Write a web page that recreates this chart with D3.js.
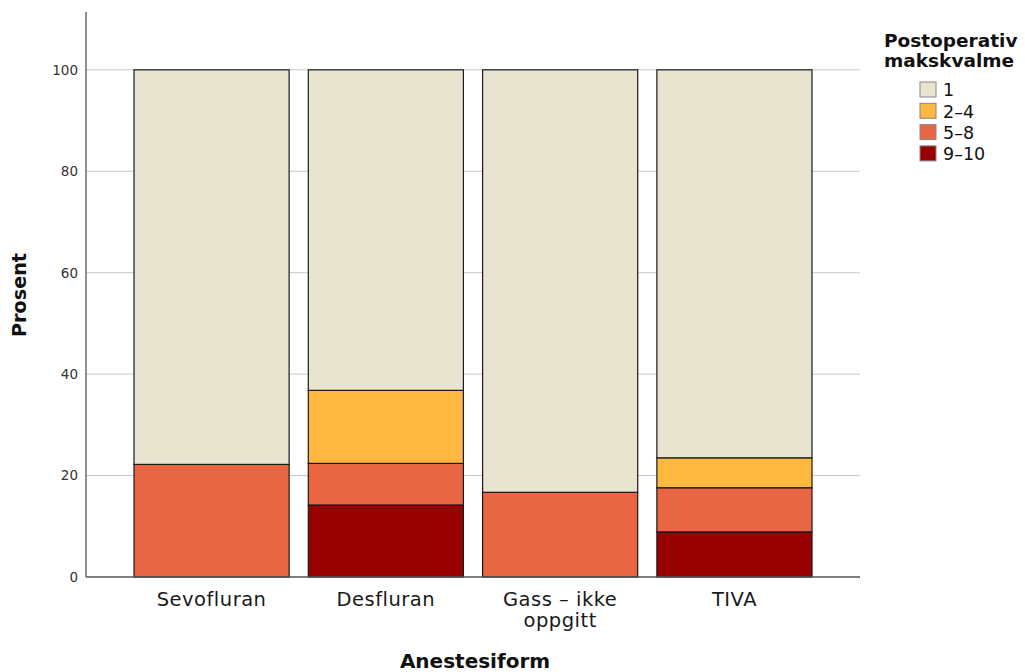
<!DOCTYPE html>
<html>
<head>
<meta charset="utf-8">
<script src="https://cdn.jsdelivr.net/npm/d3@7"></script>
<style>
  body { margin: 0; background: #fff; }
  svg { display: block; }
</style>
</head>
<body>
<svg id="chart" width="1025" height="672"></svg>
<script>
// Data (percent per anaesthesia form)
const categories = ['Sevofluran', 'Desfluran', 'Gass - ikke oppgitt', 'TIVA'];
const categoryLines = [['Sevofluran'], ['Desfluran'], ['Gass – ikke', 'oppgitt'], ['TIVA']];
const levels = ['1', '2–4', '5–8', '9–10'];
const level1 = [77.8, 63.2, 83.3, 76.5];
const level2to4 = [0, 14.4, 0, 5.9];
const level5to8 = [22.2, 8.2, 16.7, 8.7];
const level9to10 = [0, 14.2, 0, 8.9];
const yTicks = [0, 20, 40, 60, 80, 100];
const levelColors = ['#e9e4d0', '#ffb83f', '#e96644', '#990000'];

const FONT = 'DejaVu Sans, Verdana, sans-serif';
const svg = d3.select('#chart');
const plot = { left: 86, right: 860, top: 12, bottom: 577 };

const rows = categories.map((c, i) => ({
  category: c,
  '1': level1[i],
  '2–4': level2to4[i],
  '5–8': level5to8[i],
  '9–10': level9to10[i]
}));

// stack from the bottom: 9–10, 5–8, 2–4, 1
const stackOrder = levels.slice().reverse();
const series = d3.stack().keys(stackOrder)(rows);

const x = d3.scaleBand()
  .domain(categories)
  .range([134, 812])
  .paddingInner(0.11)
  .paddingOuter(0);

const y = d3.scaleLinear()
  .domain([0, 111.4])
  .range([plot.bottom, plot.top]);

const color = d3.scaleOrdinal().domain(levels).range(levelColors);

// gridlines
svg.append('g')
  .selectAll('line')
  .data(yTicks.filter(d => d > 0))
  .enter().append('line')
  .attr('x1', plot.left)
  .attr('x2', plot.right)
  .attr('y1', d => y(d))
  .attr('y2', d => y(d))
  .attr('stroke', '#c8c8c8')
  .attr('stroke-width', 1);

// bars
svg.append('g')
  .selectAll('g')
  .data(series)
  .enter().append('g')
  .attr('fill', d => color(d.key))
  .selectAll('rect')
  .data(d => d.filter(p => p[1] - p[0] > 0))
  .enter().append('rect')
  .attr('x', d => x(d.data.category))
  .attr('width', x.bandwidth())
  .attr('y', d => y(d[1]))
  .attr('height', d => y(d[0]) - y(d[1]))
  .attr('stroke', '#1a1a1a')
  .attr('stroke-width', 1.2);

// y axis
const yAxis = svg.append('g')
  .attr('transform', `translate(${plot.left},0)`)
  .call(d3.axisLeft(y).tickValues(yTicks).tickSize(0).tickPadding(8));
yAxis.select('.domain').remove();
yAxis.selectAll('text')
  .attr('font-family', FONT)
  .attr('font-size', 13.5)
  .attr('fill', '#333');

svg.append('line')
  .attr('x1', plot.left).attr('x2', plot.left)
  .attr('y1', plot.top).attr('y2', plot.bottom)
  .attr('stroke', '#555').attr('stroke-width', 1.3);
svg.append('line')
  .attr('x1', plot.left).attr('x2', plot.right)
  .attr('y1', plot.bottom).attr('y2', plot.bottom)
  .attr('stroke', '#555').attr('stroke-width', 1.3);

// x labels
const xLab = svg.append('g')
  .selectAll('text')
  .data(categories)
  .enter().append('text')
  .attr('x', d => x(d) + x.bandwidth() / 2)
  .attr('y', 606)
  .attr('text-anchor', 'middle')
  .attr('font-family', FONT)
  .attr('font-size', 19.5)
  .attr('letter-spacing', 0.5)
  .attr('fill', '#1a1a1a');
xLab.each(function(d, i) {
  categoryLines[i].forEach((line, j) => {
    d3.select(this).append('tspan')
      .attr('x', x(d) + x.bandwidth() / 2)
      .attr('dy', j === 0 ? 0 : 21)
      .text(line);
  });
});

// axis titles
svg.append('text')
  .attr('x', 475)
  .attr('y', 668)
  .attr('text-anchor', 'middle')
  .attr('font-family', FONT)
  .attr('font-weight', 'bold')
  .attr('font-size', 20)
  .attr('fill', '#111')
  .text('Anestesiform');

svg.append('text')
  .attr('transform', 'translate(26,295) rotate(-90)')
  .attr('text-anchor', 'middle')
  .attr('font-family', FONT)
  .attr('font-weight', 'bold')
  .attr('font-size', 19.2)
  .attr('fill', '#111')
  .text('Prosent');

// legend
const legend = svg.append('g');
legend.append('text')
  .attr('x', 884)
  .attr('y', 47)
  .attr('font-family', FONT)
  .attr('font-weight', 'bold')
  .attr('font-size', 18.5)
  .attr('fill', '#111')
  .selectAll('tspan')
  .data(['Postoperativ', 'makskvalme'])
  .enter().append('tspan')
  .attr('x', 884)
  .attr('dy', (d, i) => i === 0 ? 0 : 20)
  .text(d => d);

const items = legend.selectAll('.item')
  .data(levels)
  .enter().append('g')
  .attr('class', 'item')
  .attr('transform', (d, i) => `translate(920,${82 + i * 21.3})`);
items.append('rect')
  .attr('width', 16)
  .attr('height', 15)
  .attr('fill', d => color(d))
  .attr('stroke', '#888')
  .attr('stroke-width', 1);
items.append('text')
  .attr('x', 23)
  .attr('y', 8)
  .attr('dy', '0.36em')
  .attr('font-family', FONT)
  .attr('font-size', 17.5)
  .attr('fill', '#111')
  .text(d => d);
</script>
</body>
</html>
